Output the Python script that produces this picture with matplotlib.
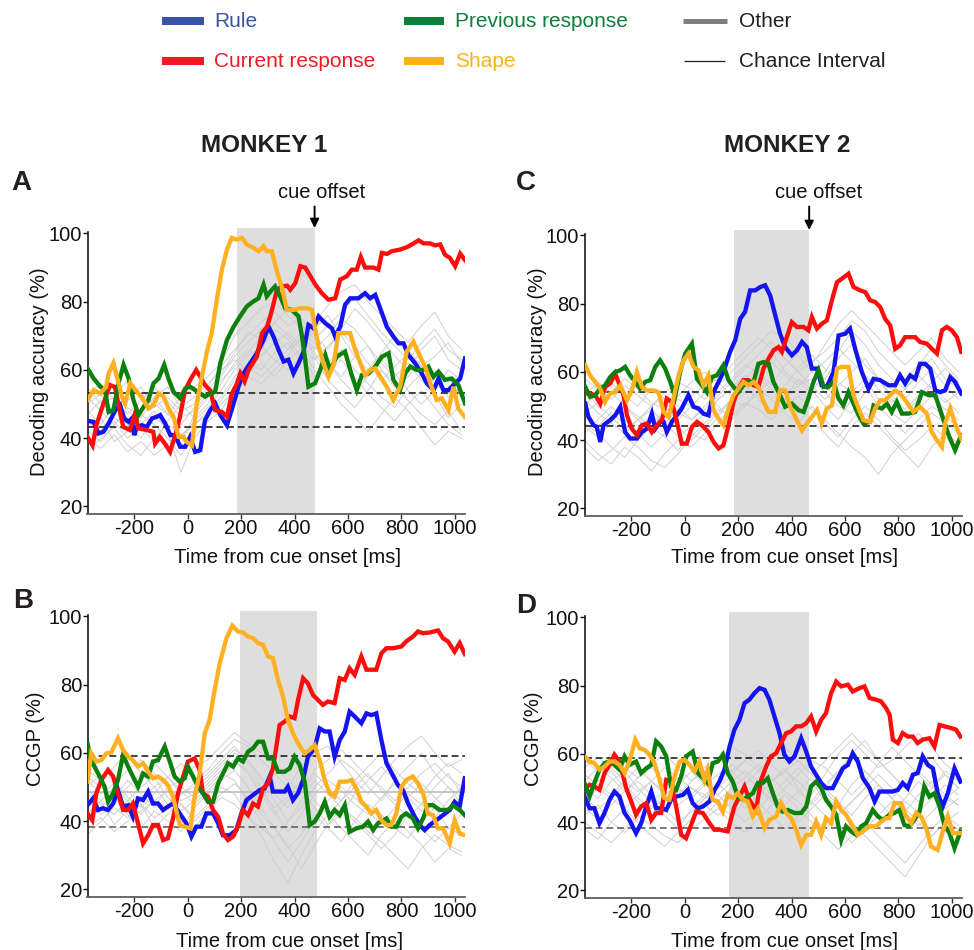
import matplotlib
matplotlib.use("Agg")
import matplotlib.pyplot as plt
from matplotlib.lines import Line2D

plt.rcParams['font.family'] = ['Liberation Sans', 'DejaVu Sans']
plt.rcParams['axes.unicode_minus'] = False

W, H = 974, 950

# ---------------- data (time in ms, value in %) ----------------
RULE_A = [(-375,45.1),(-352,44.8),(-334,41.4),(-315,41.9),(-296,44.3),(-271,48.2),(-253,49.7),(-238,45.8),(-221,44.8),(-209,45.8),(-200,40.9),(-190,43.3),(-172,43.8),(-153,43.3),(-134,45.8),(-115,46.3),(-103,46.8),(-84,44.3),(-65,40.9),(-47,40.9),(-28,37.5),(-9,37.5),(9,40.4),(28,36.0),(47,36.5),(65,45.3),(84,48.2),(103,50.2),(122,46.8),(147,43.8),(172,50.2),(190,55.1),(209,59.0),(234,62.0),(259,64.9),(284,68.8),(303,72.7),(321,69.8),(340,65.9),(359,62.5),(377,63.0),(396,59.0),(415,62.0),(434,65.4),(452,73.2),(471,72.2),(490,75.7),(515,73.7),(540,72.2),(552,69.8),(571,72.7),(589,79.1),(608,81.0),(639,81.0),(664,82.5),(683,81.0),(702,82.0),(727,76.7),(745,72.7),(770,69.8),(789,67.8),(808,67.8),(826,64.4),(851,62.0),(876,59.0),(895,56.1),(920,54.1),(939,57.5),(957,54.1),(976,54.1),(1001,56.1),(1020,57.5),(1038,63.4)]
CURR_A = [(-375,40.4),(-356,37.9),(-341,44.0),(-316,50.0),(-291,55.6),(-272,55.0),(-254,48.0),(-241,43.3),(-216,42.4),(-197,47.3),(-185,42.9),(-154,42.4),(-129,41.9),(-122,38.4),(-104,40.4),(-85,38.4),(-66,36.0),(-41,42.4),(-29,46.3),(-10,54.0),(9,57.0),(32,60.0),(47,58.0),(65,55.6),(84,54.0),(103,48.2),(128,47.7),(147,46.3),(165,53.0),(184,56.0),(197,59.0),(213,56.6),(228,60.0),(259,63.9),(278,70.8),(297,72.7),(309,75.7),(322,79.6),(334,83.5),(353,84.5),(372,84.7),(384,83.5),(403,85.5),(422,90.4),(440,90.0),(459,87.5),(478,85.0),(502,82.5),(527,80.6),(552,81.0),(571,86.5),(596,87.5),(614,89.4),(633,89.4),(648,93.1),(664,90.0),(696,90.0),(714,89.4),(727,94.3),(746,94.0),(764,94.8),(796,95.3),(821,96.0),(846,97.1),(864,98.0),(883,97.1),(907,97.1),(926,96.5),(945,96.8),(963,93.8),(982,92.8),(1001,90.4),(1020,94.1),(1038,92.2)]
PREV_A = [(-375,60.5),(-352,57.5),(-327,55.1),(-309,54.1),(-296,47.7),(-278,48.2),(-259,56.1),(-240,61.5),(-221,57.5),(-203,51.2),(-184,46.8),(-165,49.2),(-147,51.2),(-128,56.1),(-109,57.5),(-88,61.5),(-72,57.5),(-53,53.6),(-28,51.7),(-9,54.6),(9,55.1),(28,54.1),(47,53.1),(65,52.2),(84,53.1),(103,53.6),(122,62.0),(147,68.8),(172,72.7),(196,75.7),(221,78.6),(246,80.1),(265,81.0),(284,85.0),(296,81.6),(315,83.5),(327,84.5),(346,81.6),(365,78.1),(390,77.6),(415,75.7),(427,70.3),(440,62.9),(452,55.1),(477,56.1),(496,60.0),(515,64.4),(533,60.0),(558,63.9),(589,65.4),(614,58.5),(633,54.1),(652,58.5),(677,59.0),(702,61.0),(727,63.9),(752,64.9),(770,57.1),(795,54.1),(814,59.0),(833,61.0),(858,60.0),(882,60.0),(901,61.0),(920,58.0),(939,59.5),(963,57.1),(988,57.5),(1013,55.6),(1038,50.2)]
SHAPE_A = [(-375,51.2),(-352,54.1),(-327,53.1),(-305,55.1),(-296,59.0),(-278,62.0),(-265,58.0),(-246,52.2),(-234,50.2),(-215,56.1),(-190,53.6),(-165,51.2),(-147,48.7),(-128,49.7),(-109,53.1),(-90,52.2),(-72,48.7),(-53,46.3),(-34,40.4),(-16,40.4),(-3,38.9),(16,37.9),(34,50.2),(53,58.0),(72,65.4),(90,70.8),(109,80.6),(128,89.4),(147,95.3),(165,98.7),(184,98.2),(203,98.7),(221,96.8),(246,95.8),(265,94.8),(284,96.3),(296,94.8),(315,94.8),(334,88.9),(352,84.5),(371,77.6),(396,77.6),(421,78.1),(446,78.1),(465,77.6),(477,72.2),(490,66.9),(508,62.0),(527,58.0),(546,61.5),(564,70.8),(583,70.8),(608,70.8),(627,65.9),(646,62.0),(664,58.5),(683,60.0),(702,60.5),(721,58.0),(745,55.1),(770,51.2),(795,55.1),(820,65.4),(845,68.3),(870,63.9),(889,61.0),(908,56.1),(932,51.2),(951,51.7),(976,48.2),(995,55.1),(1013,48.7),(1036,46.3)]

RULE_C = [(-372,50.7),(-360,46.8),(-341,44.4),(-329,43.9),(-316,39.5),(-304,44.4),(-279,45.9),(-260,47.3),(-241,49.8),(-223,42.4),(-204,40.5),(-179,40.5),(-160,42.4),(-142,43.4),(-123,47.8),(-110,43.4),(-92,45.4),(-79,45.4),(-67,42.4),(-48,45.4),(-29,47.3),(-11,49.3),(14,53.2),(33,49.8),(52,49.3),(70,47.8),(89,47.3),(108,54.1),(127,57.1),(145,60.0),(170,65.9),(189,69.3),(208,75.6),(226,77.6),(245,83.9),(264,83.9),(283,84.9),(301,85.4),(320,82.4),(339,76.6),(357,71.2),(376,67.3),(401,64.9),(420,66.3),(439,68.8),(457,67.3),(476,61.0),(495,61.0),(513,56.1),(532,55.6),(557,60.0),(576,70.7),(601,71.2),(619,72.7),(638,66.8),(663,60.0),(688,55.1),(707,58.0),(732,57.6),(763,56.1),(788,56.1),(806,59.0),(825,56.6),(844,59.0),(863,58.0),(881,62.4),(900,62.4),(919,61.0),(938,54.6),(956,54.1),(975,54.6),(994,58.5),(1012,57.1),(1035,53.7)]
CURR_C = [(-372,53.7),(-354,53.7),(-335,53.2),(-316,50.7),(-298,55.6),(-279,56.6),(-260,59.5),(-248,57.1),(-229,53.2),(-216,47.3),(-198,43.4),(-179,41.5),(-160,44.4),(-142,44.9),(-123,42.4),(-104,44.4),(-85,45.9),(-67,52.2),(-48,51.2),(-29,45.4),(-11,39.0),(8,39.0),(27,43.9),(46,45.4),(64,44.4),(89,42.4),(108,39.5),(127,37.6),(145,38.5),(164,44.4),(183,51.2),(201,55.1),(220,57.6),(239,57.6),(258,56.1),(276,55.6),(295,61.0),(314,63.9),(332,66.3),(351,67.3),(364,65.9),(382,70.2),(401,74.6),(420,73.2),(445,73.2),(463,72.2),(476,76.1),(495,72.7),(513,74.1),(532,75.1),(551,81.0),(570,86.3),(588,87.3),(613,88.8),(632,84.9),(657,83.9),(676,83.4),(694,81.0),(713,80.5),(732,79.0),(750,75.6),(769,73.7),(788,66.8),(806,67.8),(825,70.2),(863,70.2),(881,68.8),(906,68.3),(925,66.8),(944,65.4),(963,72.2),(981,73.2),(1000,72.2),(1019,70.2),(1035,65.9)]
PREV_C = [(-372,55.6),(-354,52.7),(-335,53.2),(-316,55.1),(-298,56.1),(-279,58.5),(-260,60.0),(-241,60.5),(-223,61.5),(-204,59.0),(-185,57.1),(-167,55.1),(-148,57.1),(-129,57.6),(-110,61.5),(-92,63.4),(-73,61.0),(-54,57.1),(-36,52.7),(-17,60.0),(2,65.4),(27,68.3),(46,58.0),(64,56.1),(83,54.1),(102,58.5),(120,59.0),(145,62.0),(164,57.6),(183,55.6),(201,54.1),(220,56.1),(239,57.1),(258,57.1),(276,62.4),(295,62.9),(314,62.4),(332,57.1),(357,53.2),(376,49.8),(401,50.7),(426,48.8),(445,48.3),(463,52.2),(482,57.1),(501,60.5),(520,55.6),(538,55.6),(557,57.1),(576,52.2),(594,50.2),(613,54.1),(632,50.7),(651,47.3),(669,44.9),(694,45.4),(707,50.2),(719,49.8),(738,49.3),(757,50.7),(775,48.3),(794,51.2),(813,47.8),(838,47.8),(863,48.3),(888,54.1),(913,53.2),(938,53.2),(963,47.3),(988,41.5),(1012,37.1),(1035,41.5)]
SHAPE_C = [(-372,62.0),(-354,59.0),(-335,57.1),(-316,55.1),(-298,51.2),(-279,53.7),(-260,54.1),(-241,56.1),(-216,51.7),(-198,54.6),(-179,60.0),(-160,55.6),(-142,54.6),(-117,54.6),(-98,54.1),(-79,48.3),(-60,46.8),(-42,52.2),(-23,59.0),(-4,63.4),(14,65.4),(33,61.5),(52,60.5),(70,56.1),(89,59.0),(108,48.8),(127,46.3),(145,44.4),(164,49.3),(183,53.2),(201,55.1),(220,57.1),(239,56.1),(258,57.1),(276,55.6),(295,51.2),(314,48.3),(339,48.3),(357,54.6),(376,54.6),(395,49.8),(414,46.8),(439,42.9),(457,44.9),(476,46.8),(495,48.8),(513,44.9),(532,49.3),(551,50.2),(570,61.0),(588,61.5),(613,61.5),(632,53.2),(651,49.3),(669,45.9),(694,45.4),(713,49.3),(732,51.7),(750,51.7),(769,53.2),(788,54.6),(806,53.7),(831,51.2),(856,48.3),(881,49.8),(906,47.8),(925,42.4),(944,40.0),(963,38.0),(975,44.9),(994,49.3),(1012,44.9),(1035,40.5)]

RULE_B = [(-375,44.7),(-354,46.7),(-336,43.3),(-317,43.8),(-298,43.3),(-279,45.2),(-261,49.1),(-242,44.3),(-223,44.7),(-205,41.3),(-186,46.7),(-167,46.2),(-148,48.7),(-130,45.2),(-111,45.2),(-92,43.3),(-74,44.3),(-55,45.2),(-30,42.3),(-5,39.4),(14,35.5),(32,38.4),(51,38.4),(70,42.3),(95,42.3),(114,39.4),(132,35.9),(157,35.9),(182,37.4),(201,42.3),(220,46.2),(245,47.7),(269,49.1),(288,49.6),(307,53.1),(319,48.7),(344,48.7),(363,48.7),(375,50.1),(394,46.2),(413,48.2),(432,52.1),(450,58.9),(475,61.4),(494,67.2),(513,66.3),(531,66.3),(550,58.9),(569,63.8),(588,66.3),(606,72.1),(625,70.7),(650,68.7),(669,71.6),(687,71.1),(706,71.6),(725,63.8),(744,57.0),(768,53.5),(787,50.6),(806,49.1),(825,45.2),(850,41.3),(874,38.4),(887,37.4),(906,38.9),(931,40.3),(956,41.8),(981,43.3),(999,45.7),(1018,44.3),(1037,52.6)]
CURR_B = [(-375,42.3),(-357,40.3),(-342,48.2),(-323,52.1),(-298,55.0),(-279,53.1),(-261,48.2),(-242,43.3),(-223,43.3),(-205,45.2),(-186,39.4),(-167,33.5),(-148,35.9),(-130,38.9),(-111,38.9),(-92,34.5),(-74,35.0),(-55,40.8),(-36,48.2),(-17,53.1),(1,57.5),(26,58.4),(45,55.0),(57,48.2),(76,47.2),(95,43.3),(114,41.3),(132,36.4),(151,34.5),(170,35.5),(188,38.4),(207,43.3),(226,41.8),(245,45.2),(263,44.3),(282,49.6),(301,51.1),(319,55.5),(332,61.9),(344,68.2),(363,69.2),(382,70.7),(400,70.2),(413,75.5),(432,81.9),(450,80.4),(469,77.0),(488,75.5),(506,74.1),(525,75.1),(550,74.6),(569,81.9),(588,81.4),(606,84.8),(625,82.9),(650,88.3),(669,84.4),(706,84.4),(725,89.2),(744,90.7),(768,90.7),(800,91.2),(818,92.7),(843,94.1),(862,95.6),(881,95.1),(906,95.3),(937,95.9),(956,93.6),(974,92.7),(999,89.7),(1018,92.2),(1037,89.0)]
PREV_B = [(-375,62.8),(-361,57.9),(-342,55.0),(-323,52.1),(-311,50.1),(-298,45.7),(-279,48.2),(-261,52.1),(-242,59.4),(-223,56.0),(-205,53.1),(-186,50.1),(-167,54.0),(-148,53.1),(-130,57.5),(-111,57.9),(-86,61.9),(-67,57.5),(-49,53.1),(-30,51.6),(-11,52.6),(1,56.0),(20,53.1),(39,50.1),(57,48.2),(76,45.7),(95,45.7),(114,51.1),(132,54.0),(151,57.0),(170,56.0),(188,58.4),(207,57.5),(226,60.4),(245,61.4),(263,63.3),(282,63.3),(301,58.4),(319,58.4),(338,54.5),(363,54.5),(382,55.5),(400,58.9),(419,56.5),(438,51.6),(457,38.9),(475,39.9),(494,42.3),(513,45.7),(531,41.3),(550,43.3),(569,41.8),(588,44.7),(606,36.9),(631,37.9),(656,38.4),(675,39.9),(694,37.4),(712,39.4),(744,40.8),(762,38.4),(781,38.4),(800,41.3),(818,42.3),(843,40.8),(862,37.9),(881,40.8),(899,44.7),(918,44.7),(943,43.3),(974,43.3),(993,44.7),(1018,43.3),(1037,41.8)]
SHAPE_B = [(-375,51.6),(-361,59.9),(-342,57.5),(-323,57.9),(-304,59.9),(-286,60.1),(-261,64.3),(-242,60.9),(-223,58.9),(-205,57.9),(-186,56.0),(-167,57.0),(-148,54.5),(-130,52.6),(-111,53.1),(-92,52.1),(-74,50.6),(-55,47.2),(-30,38.9),(-11,38.4),(10,37.9),(26,47.2),(45,54.0),(64,65.8),(82,69.7),(101,78.5),(120,86.3),(145,93.6),(167,97.3),(188,95.6),(207,95.3),(226,94.1),(245,93.6),(263,92.2),(282,91.7),(301,88.3),(319,87.8),(338,81.4),(357,76.5),(375,69.7),(394,65.8),(413,62.8),(438,59.9),(457,60.9),(475,62.3),(494,57.9),(513,52.1),(531,48.2),(550,47.2),(569,51.6),(594,51.6),(613,52.1),(631,49.6),(650,45.7),(669,44.3),(687,42.3),(706,43.3),(725,40.3),(744,38.9),(762,38.9),(781,42.3),(800,50.1),(818,52.1),(843,53.1),(862,51.1),(881,48.2),(899,42.3),(918,41.8),(937,37.9),(956,37.9),(981,33.5),(999,40.3),(1018,36.4),(1037,35.9)]

RULE_D = [(-375,47.5),(-356,44.1),(-338,44.1),(-319,39.7),(-300,42.7),(-281,46.6),(-263,49.0),(-244,47.5),(-225,42.7),(-207,40.7),(-182,36.8),(-163,39.7),(-144,44.6),(-125,49.0),(-107,44.1),(-88,44.1),(-69,43.6),(-51,46.6),(-32,47.5),(-7,48.0),(12,49.5),(30,45.6),(49,44.1),(68,44.6),(93,46.1),(112,49.5),(130,51.9),(149,55.4),(168,62.2),(186,67.1),(205,70.0),(224,74.9),(242,75.9),(261,77.8),(280,79.3),(299,78.8),(317,75.9),(336,71.0),(355,66.1),(373,59.8),(392,57.8),(411,59.3),(436,64.6),(455,60.7),(473,56.3),(492,53.9),(511,51.5),(529,50.0),(554,50.0),(573,52.9),(592,55.8),(611,56.8),(629,60.2),(648,57.8),(667,52.9),(692,50.0),(711,46.1),(729,49.0),(754,49.0),(779,49.0),(798,49.5),(816,51.5),(835,50.0),(854,53.9),(872,54.4),(891,59.3),(910,56.8),(929,55.8),(947,48.5),(966,44.6),(985,48.5),(1010,55.8),(1032,51.9)]
CURR_D = [(-375,49.5),(-356,51.0),(-338,50.5),(-319,49.5),(-300,54.4),(-281,56.8),(-263,59.8),(-244,57.8),(-219,50.0),(-200,46.1),(-182,42.2),(-163,44.6),(-144,45.6),(-125,40.7),(-107,42.7),(-88,42.7),(-69,52.4),(-51,51.9),(-32,44.6),(-13,36.3),(5,35.3),(24,39.2),(43,43.1),(68,42.7),(93,39.7),(111,37.8),(130,37.8),(161,37.3),(186,44.6),(205,47.5),(224,50.5),(242,46.6),(267,43.6),(286,52.4),(305,56.3),(323,59.3),(342,60.2),(361,63.2),(380,66.1),(398,66.6),(417,68.1),(436,68.1),(455,69.0),(473,71.0),(492,66.6),(511,70.0),(529,72.0),(548,77.8),(567,81.2),(586,79.8),(611,80.3),(629,78.3),(654,79.3),(673,79.8),(692,76.4),(717,75.9),(735,75.4),(754,73.4),(767,71.5),(779,64.2),(798,63.2),(816,66.1),(835,65.1),(854,65.1),(872,63.2),(891,64.2),(916,64.6),(935,62.2),(954,68.5),(972,68.1),(997,67.6),(1016,67.1),(1032,65.1)]
PREV_D = [(-375,51.5),(-356,47.5),(-338,51.5),(-319,55.4),(-300,57.3),(-281,57.8),(-263,56.8),(-244,55.4),(-225,59.3),(-207,56.8),(-182,57.8),(-163,54.4),(-144,55.8),(-125,56.8),(-107,63.7),(-88,62.2),(-69,59.3),(-51,50.5),(-32,49.5),(-13,53.4),(5,59.3),(30,60.7),(49,54.4),(68,52.9),(86,51.5),(105,57.3),(124,57.8),(143,59.8),(161,54.4),(180,51.9),(199,47.5),(218,46.6),(236,47.5),(255,48.5),(274,51.5),(292,51.5),(311,52.9),(330,48.5),(348,44.6),(367,43.1),(386,43.6),(411,42.7),(436,42.7),(455,44.6),(473,50.5),(492,51.9),(511,50.0),(529,46.6),(548,44.6),(567,42.2),(586,34.8),(604,38.8),(623,37.3),(642,36.3),(661,38.8),(679,39.7),(704,43.6),(723,41.7),(742,40.7),(767,42.2),(785,42.7),(804,43.6),(822,39.2),(841,38.8),(860,40.7),(879,43.1),(897,50.5),(916,47.5),(935,48.5),(954,44.6),(972,39.2),(991,36.8),(1010,32.4),(1032,37.3)]
SHAPE_D = [(-375,59.3),(-356,57.8),(-338,57.3),(-319,55.4),(-300,56.3),(-281,57.8),(-263,57.8),(-244,56.8),(-225,54.4),(-207,57.8),(-185,64.2),(-169,61.7),(-150,61.2),(-132,59.8),(-113,57.3),(-94,52.4),(-76,47.1),(-57,46.6),(-38,53.4),(-19,57.8),(-1,58.3),(18,56.8),(37,54.9),(55,57.8),(74,52.4),(86,55.4),(105,46.6),(124,46.1),(143,43.1),(161,48.0),(180,47.1),(199,48.5),(218,46.6),(236,46.1),(255,41.7),(274,44.1),(299,38.3),(317,40.7),(342,41.7),(361,45.6),(380,42.7),(398,41.2),(417,37.8),(436,33.4),(455,36.3),(473,36.3),(492,40.2),(511,36.3),(529,41.2),(548,39.7),(567,46.1),(586,43.6),(604,42.2),(629,38.8),(648,36.3),(667,37.3),(692,38.8),(717,38.8),(735,40.2),(754,41.2),(767,41.2),(785,45.6),(810,45.6),(829,41.7),(848,39.7),(866,42.7),(885,41.7),(904,38.3),(922,32.9),(947,31.9),(966,37.3),(985,41.7),(1004,36.8),(1032,36.8)]

# "Other" variables (thin grey), sampled every 50 ms
OTHER_T = [-375,-325,-275,-225,-175,-125,-75,-25,25,75,125,175,225,275,325,375,425,475,525,575,625,675,725,775,825,875,925,975,1025]
OTHER_A = [
    [45,42,48,44,40,46,43,38,47,52,58,64,68,72,70,66,71,68,62,58,64,67,60,55,58,63,57,52,55],
    [50,53,47,51,55,49,52,48,50,55,61,66,70,74,77,73,75,70,66,72,78,74,69,64,60,66,70,63,60],
    [40,37,41,36,39,35,38,41,44,48,52,58,62,60,65,68,62,64,57,53,49,54,60,56,51,47,44,48,42],
    [55,50,52,57,53,50,47,52,55,58,62,70,74,78,80,76,72,74,79,83,85,80,76,72,68,73,77,70,66],
    [43,46,39,42,47,44,40,35,42,46,50,54,59,62,58,63,66,60,55,50,46,42,47,52,48,43,38,42,40],
    [48,44,50,46,43,39,45,50,46,50,56,62,66,64,68,71,67,72,76,70,64,60,65,70,66,61,64,68,62],
    [38,42,45,40,44,48,42,30,40,45,48,55,58,56,60,64,70,66,70,75,72,67,62,58,62,57,54,60,57],
    [52,48,44,49,46,52,55,49,52,56,60,63,60,66,72,69,64,58,62,66,60,56,52,49,55,59,53,46,50],
    [47,51,46,43,48,52,47,44,49,54,59,65,71,69,74,78,73,69,73,77,81,76,71,67,63,68,72,66,63],
    [42,39,44,48,45,41,37,40,45,49,54,60,64,67,63,60,64,67,62,57,53,58,63,59,54,50,54,58,52],
    [53,56,51,47,51,55,51,46,48,53,57,61,65,70,74,70,66,63,67,71,67,62,57,61,65,61,56,53,57],
    [36,40,43,38,35,40,44,41,44,47,51,57,61,58,62,66,69,65,59,63,58,53,49,45,50,54,49,44,41],
]
OTHER_B = [
    [45,50,47,52,48,44,50,46,48,52,56,60,58,52,46,40,44,50,54,58,55,50,46,52,56,60,54,50,47],
    [40,44,48,42,38,43,40,37,44,48,52,55,50,44,38,32,36,42,38,34,40,45,42,38,35,40,44,38,36],
    [55,52,56,60,54,50,53,57,52,55,60,64,62,58,54,50,56,60,62,57,52,48,53,58,62,65,60,56,58],
    [48,45,42,46,50,53,47,43,46,50,54,52,46,40,34,28,34,40,46,50,47,43,39,44,48,45,41,46,50],
    [36,40,44,41,45,38,42,45,41,45,50,48,42,36,28,22,30,37,42,38,34,30,36,40,37,33,28,32,30],
    [52,48,51,55,58,54,50,52,56,58,62,66,63,60,56,52,48,54,50,46,52,56,60,55,51,48,53,57,54],
    [42,46,39,43,47,50,45,40,38,43,47,45,41,38,35,40,46,52,48,44,40,36,32,36,42,38,34,38,42],
    [50,54,52,47,44,48,53,49,45,49,53,57,55,49,44,47,52,46,42,46,50,54,49,45,41,45,50,54,48],
    [46,42,45,49,45,41,44,48,51,54,58,62,57,50,43,37,42,48,52,49,45,42,47,51,47,43,46,50,45],
    [53,50,46,50,54,57,53,48,50,53,57,61,58,53,48,44,49,55,58,61,57,53,50,46,50,54,57,53,50],
    [38,41,37,40,43,46,49,45,40,44,48,51,47,42,38,33,26,33,39,44,41,37,34,30,26,32,36,33,31],
    [49,46,50,46,42,46,44,50,47,51,55,58,54,48,42,46,50,44,39,42,48,52,56,52,47,51,47,43,46],
]
OTHER_C = [
    [52,48,45,50,47,44,48,52,50,47,52,55,58,62,66,60,57,54,60,66,72,68,62,58,55,60,64,58,55],
    [45,42,38,35,40,44,41,37,42,40,45,50,54,58,55,52,58,55,50,46,52,56,50,46,42,46,50,47,44],
    [58,55,52,56,53,50,54,57,55,52,56,60,64,68,72,70,66,62,68,74,78,74,70,66,62,66,70,64,60],
    [40,36,33,38,35,31,36,40,38,42,47,52,50,54,58,54,50,46,42,38,44,48,44,40,36,32,38,42,39],
    [50,54,57,53,50,55,52,48,46,50,54,58,62,60,56,62,65,60,58,64,68,62,58,55,52,57,61,56,52],
    [47,44,48,45,41,45,48,44,40,44,48,52,56,52,48,52,56,58,54,50,48,54,58,52,48,52,56,52,48],
    [55,50,47,43,46,42,45,49,53,56,58,62,66,70,67,64,60,56,52,56,60,64,58,53,49,53,57,61,57],
    [42,46,50,46,42,38,42,46,50,54,50,46,50,55,52,48,45,50,46,42,38,35,30,36,40,44,48,45,42],
    [48,51,54,50,46,50,53,50,46,49,53,57,61,65,69,64,60,63,66,70,75,72,66,62,58,62,67,62,58],
    [38,34,37,41,38,34,32,36,41,45,49,47,51,49,46,50,53,49,45,41,46,50,46,41,37,40,44,41,37],
    [53,57,54,58,55,51,49,53,57,60,57,53,56,60,63,59,56,60,63,67,63,59,55,51,55,59,55,51,54],
    [44,41,45,42,46,49,45,41,44,48,52,55,59,56,52,56,61,65,61,57,54,58,52,48,45,49,53,49,46],
]
OTHER_D = [
    [50,47,52,55,50,46,49,53,50,47,50,54,58,55,52,55,58,54,50,55,60,64,58,54,50,55,59,54,50],
    [42,45,40,37,41,45,42,38,44,48,45,42,46,50,47,43,40,44,48,44,40,36,32,28,24,30,36,40,38],
    [58,55,60,56,53,57,60,56,52,55,58,62,60,56,52,55,52,48,54,60,64,60,56,58,62,66,62,57,54],
    [46,50,47,44,48,52,49,45,48,52,48,44,40,44,48,52,56,52,46,42,46,50,54,50,46,43,47,51,48],
    [38,35,40,44,40,36,33,37,41,45,42,46,50,46,42,38,42,46,42,38,34,38,42,46,44,40,36,40,43],
    [54,51,48,52,56,52,48,51,55,51,54,57,54,50,46,50,54,58,56,52,48,52,57,62,58,54,50,55,52],
    [48,52,55,50,46,42,46,50,46,42,46,50,53,57,53,49,46,42,38,42,46,50,46,42,47,52,48,44,47],
    [44,41,45,49,52,48,44,40,43,47,51,48,44,48,52,56,50,45,50,46,42,47,51,47,43,39,43,47,45],
    [52,56,53,49,53,56,52,48,52,56,59,55,51,55,59,62,58,54,58,62,66,62,58,54,50,46,50,54,50],
    [40,37,34,38,42,39,36,34,38,41,44,40,37,41,45,48,44,40,36,32,36,40,36,32,28,33,38,42,39],
    [47,44,47,51,47,44,47,50,47,51,48,52,55,52,48,45,49,53,49,45,51,55,51,47,51,55,51,47,50],
    [56,59,56,52,49,52,56,53,50,48,51,55,58,61,57,53,49,46,51,55,59,55,51,47,43,48,52,48,45],
]
OTHER_MEAN_B = 48.7

CHANCE_A = (43.4, 53.4)
CHANCE_B = (38.4, 59.1)
CHANCE_C = (44.2, 54.2)
CHANCE_D = (38.3, 58.8)

CUE_A = (186, 475)
CUE_B = (196, 483)
CUE_C = (186, 466)
CUE_D = (167, 465)

XTICKS = [-200, 0, 200, 400, 600, 800, 1000]
YTICKS = [20, 40, 60, 80, 100]
XLIM = (-375, 1038)
YLIM = (17.8, 101.6)

LABELS = ['Rule', 'Current response', 'Previous response', 'Shape']
LINE_COLORS = ['#1414f0', '#fe0d0d', '#0c800c', '#ffb020']
LEGEND_COLORS = ['#3953a4', '#ed1c24', '#0e7e3c', '#fbb21b']

# ---------------- figure ----------------
fig = plt.figure(figsize=(W / 100, H / 100), dpi=100)
TXT = '#231f20'

panels = [
    dict(left=87.5, bottom=514, series=[RULE_A, CURR_A, PREV_A, SHAPE_A], others=OTHER_A,
         chance=CHANCE_A, cue=CUE_A, ylabel='Decoding accuracy (%)', ylab=(-0.126, 0.497),
         xlab=(0.53, -0.172), letter='A', letpos=(11, 190), arrow=True, mean=None, lowgray=False),
    dict(left=87.5, bottom=897, series=[RULE_B, CURR_B, PREV_B, SHAPE_B], others=OTHER_B,
         chance=CHANCE_B, cue=CUE_B, ylabel='CCGP (%)', ylab=(-0.139, 0.552),
         xlab=(0.535, -0.174), letter='B', letpos=(13, 608), arrow=False, mean=OTHER_MEAN_B, lowgray=True),
    dict(left=584.5, bottom=516, series=[RULE_C, CURR_C, PREV_C, SHAPE_C], others=OTHER_C,
         chance=CHANCE_C, cue=CUE_C, ylabel='Decoding accuracy (%)', ylab=(-0.1245, 0.505),
         xlab=(0.529, -0.165), letter='C', letpos=(516, 190), arrow=True, mean=None, lowgray=False),
    dict(left=584.5, bottom=898, series=[RULE_D, CURR_D, PREV_D, SHAPE_D], others=OTHER_D,
         chance=CHANCE_D, cue=CUE_D, ylabel='CCGP (%)', ylab=(-0.136, 0.556),
         xlab=(0.529, -0.170), letter='D', letpos=(516, 613), arrow=False, mean=None, lowgray=True),
]

AX_W, AX_H = 377.5, 286
draw_order = [0, 1, 2, 3]
for p in panels:
    ax = fig.add_axes([p['left'] / W, 1 - p['bottom'] / H, AX_W / W, AX_H / H])
    ax.set_xlim(*XLIM)
    ax.set_ylim(*YLIM)
    ax.axvspan(p['cue'][0], p['cue'][1], color='#dedede', lw=0, zorder=0)
    for vals in p['others']:
        ax.plot(OTHER_T, vals, color='#cdcdcd', lw=0.65, zorder=1)
    if p['mean'] is not None:
        ax.axhline(p['mean'], color='#bdbdbd', lw=1.2, zorder=1.5)
    lo, hi = p['chance']
    ax.axhline(hi, color='#111111', lw=1.1, ls=(0, (4.5, 2.5)), zorder=2)
    ax.axhline(lo, color='#555555' if p['lowgray'] else '#111111', lw=1.1, ls=(0, (4.5, 2.5)), zorder=2)
    for i in draw_order:
        s = p['series'][i]
        ax.plot([t for t, v in s], [v for t, v in s], color=LINE_COLORS[i], lw=3.1,
                solid_joinstyle='miter', zorder=3 + i)

    for side in ('top', 'right'):
        ax.spines[side].set_visible(False)
    ax.spines['left'].set_bounds(YLIM[0], 100.4)
    ax.spines['left'].set_linewidth(1.2)
    ax.spines['left'].set_color('#1a1a1a')
    ax.spines['bottom'].set_linewidth(1.3)
    ax.spines['bottom'].set_color('#5e5e5e')
    ax.set_xticks(XTICKS)
    ax.set_yticks(YTICKS)
    ax.tick_params(axis='both', length=3.3, width=1.0, labelsize=14.5, colors='#111111')
    ax.tick_params(axis='x', pad=0.5, color='#333333')
    ax.tick_params(axis='y', pad=0.5)

    ax.text(p['xlab'][0], p['xlab'][1], 'Time from cue onset [ms]', transform=ax.transAxes,
            ha='center', va='baseline', fontsize=14.5, color='#111111')
    ax.text(p['ylab'][0], p['ylab'][1], p['ylabel'], transform=ax.transAxes, rotation=90,
            ha='center', va='center', fontsize=14.5, color='#111111')

    fig.text(p['letpos'][0] / W, 1 - p['letpos'][1] / H, p['letter'], fontsize=20,
             fontweight='bold', ha='left', va='baseline', color=TXT)

    if p['arrow']:
        cx = p['cue'][1]
        top_frac = (p['bottom'] - 206.5) / AX_H
        ax.annotate('', xy=(cx, 1.0), xycoords=('data', 'axes fraction'),
                    xytext=(cx, top_frac), textcoords=('data', 'axes fraction'),
                    arrowprops=dict(arrowstyle='-|>', color='k', lw=1.4, mutation_scale=13,
                                    shrinkA=0, shrinkB=0), annotation_clip=False)
        ax.text(500, (p['bottom'] - 198.3) / AX_H, 'cue offset',
                transform=ax.get_xaxis_transform(), ha='center', va='baseline',
                fontsize=14.5, color='#111111', clip_on=False)

# titles
fig.text(264 / W, 1 - 152 / H, 'MONKEY 1', fontsize=17.5, fontweight='bold', ha='center',
         va='baseline', color=TXT)
fig.text(787.5 / W, 1 - 152 / H, 'MONKEY 2', fontsize=17.5, fontweight='bold', ha='center',
         va='baseline', color=TXT)

# legend (drawn at fixed figure positions)
def leg_line(x0, x1, y, color, lw):
    fig.add_artist(Line2D([x0 / W, x1 / W], [1 - y / H, 1 - y / H], transform=fig.transFigure,
                          color=color, lw=lw, solid_capstyle='butt'))

def leg_text(x, ybase, s, color):
    fig.text(x / W, 1 - ybase / H, s, fontsize=15, ha='left', va='baseline', color=color)

leg_entries = [
    (162, 204, 21.0, 26.7, 214, 0),
    (162, 204, 61.0, 66.7, 214, 1),
    (404, 444, 21.0, 26.7, 455, 2),
    (404, 444, 61.0, 66.7, 455, 3),
]
for x0, x1, yl, yb, xt, i in leg_entries:
    leg_line(x0, x1, yl, LEGEND_COLORS[i], 5.8)
    leg_text(xt, yb, LABELS[i], LEGEND_COLORS[i])
leg_line(683, 727, 21.0, '#808080', 3.6)
leg_text(739, 26.7, 'Other', TXT)
leg_line(684, 725, 61.0, TXT, 0.9)
leg_text(739, 66.7, 'Chance Interval', TXT)

fig.savefig('out.png', dpi=100)
